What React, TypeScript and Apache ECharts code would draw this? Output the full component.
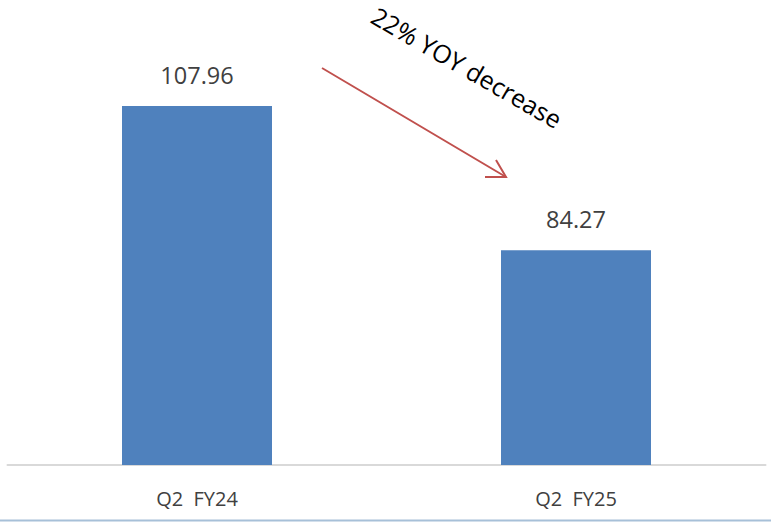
import React, { useEffect, useRef } from "react";
import * as echarts from "echarts";

const categories = ["Q2  FY24", "Q2  FY25"];
const values = [107.96, 84.27];
const valueLabels = ["107.96", "84.27"];
const annotationText = "22% YOY decrease";

export default function App() {
  const ref = useRef<HTMLDivElement>(null);
  useEffect(() => {
    if (!ref.current) return;
    const chart = echarts.init(ref.current, null, { renderer: "svg" });
    const font = "'Open Sans', 'Noto Sans', sans-serif";
    chart.setOption({
      animation: false,
      backgroundColor: "#ffffff",
      grid: { left: 7.5, right: 5.5, top: 32.7, bottom: 57 },
      xAxis: {
        type: "category",
        data: categories,
        boundaryGap: true,
        axisLine: { show: true, lineStyle: { color: "#d9d9d9", width: 2 } },
        axisTick: { show: false },
        axisLabel: {
          color: "#404040",
          fontFamily: font,
          fontSize: 20,
          margin: 23,
        },
      },
      yAxis: {
        type: "value",
        min: 49,
        max: 120,
        show: false,
        splitLine: { show: false },
      },
      series: [
        {
          type: "bar",
          data: values,
          barWidth: 150,
          itemStyle: { color: "#4f81bd" },
          label: {
            show: true,
            position: "top",
            distance: 19,
            color: "#404040",
            fontFamily: font,
            fontSize: 23.5,
            formatter: (p: any) => valueLabels[p.dataIndex],
          },
        },
      ],
      graphic: [
        {
          type: "line",
          shape: { x1: 322, y1: 68, x2: 506, y2: 177 },
          style: { stroke: "#c0504d", lineWidth: 2 },
        },
        {
          type: "polyline",
          shape: { points: [[496, 160], [506, 177], [485, 177]] },
          style: { stroke: "#c0504d", lineWidth: 2, fill: null },
        },
        {
          type: "text",
          x: 467,
          y: 67,
          rotation: (-30 * Math.PI) / 180,
          style: {
            text: annotationText,
            fill: "#000000",
            font: `25px ${font}`,
            align: "center",
            verticalAlign: "middle",
          },
        },
        {
          type: "line",
          shape: { x1: 0, y1: 520.5, x2: 771, y2: 520.5 },
          style: { stroke: "#a7c0d8", lineWidth: 2 },
        },
      ],
    });
    return () => chart.dispose();
  }, []);
  return (
    <div
      ref={ref}
      style={{ position: "fixed", left: 0, top: 0, width: 771, height: 522 }}
    />
  );
}
